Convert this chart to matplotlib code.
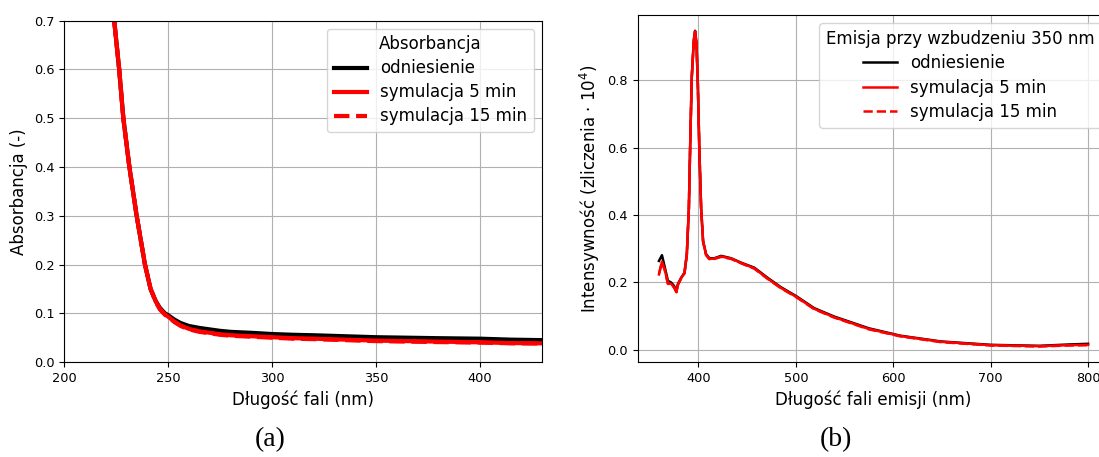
import matplotlib
matplotlib.use("Agg")
import matplotlib.pyplot as plt

plt.rcParams["font.family"] = ["DejaVu Sans"]

# (a) absorbance spectra
abs_wavelength = [220, 224, 226.4, 228.4, 231.3, 234.8, 238.8, 241.5, 244, 246, 248.4,
                  250, 253, 256, 260, 265, 270, 275, 280, 290, 300, 310, 320, 335,
                  350, 365, 380, 400, 415, 430]
abs_reference = [0.80, 0.70, 0.60, 0.50, 0.40, 0.30, 0.20, 0.15, 0.125, 0.111, 0.100,
                 0.096, 0.087, 0.080, 0.074, 0.070, 0.067, 0.064, 0.062, 0.060, 0.0575,
                 0.056, 0.055, 0.053, 0.051, 0.050, 0.049, 0.048, 0.046, 0.045]
abs_sim5 = [0.80, 0.70, 0.60, 0.50, 0.40, 0.30, 0.20, 0.15, 0.124, 0.109, 0.098,
            0.093, 0.083, 0.075, 0.068, 0.063, 0.060, 0.057, 0.055, 0.053, 0.051,
            0.049, 0.048, 0.046, 0.044, 0.043, 0.042, 0.0405, 0.039, 0.0385]
abs_sim15 = [0.80, 0.70, 0.60, 0.50, 0.40, 0.30, 0.20, 0.15, 0.123, 0.108, 0.097,
             0.092, 0.082, 0.074, 0.067, 0.062, 0.059, 0.056, 0.054, 0.052, 0.050,
             0.048, 0.047, 0.045, 0.043, 0.042, 0.041, 0.040, 0.0385, 0.038]

# (b) emission spectra, excitation 350 nm
em_wavelength = [359.5, 362.6, 365.5, 368.7, 372, 375, 377.5, 379, 382.3, 385.7, 388.1,
                 390.2, 391.8, 393.2, 395.3, 396.6, 398, 399.4, 401, 402.8, 404.8,
                 407.9, 411.3, 416.4, 423.3, 433.5, 443.7, 457.4, 471, 484.7, 500.7,
                 518.8, 539.3, 559.7, 575, 607.5, 649, 700, 750, 780, 800]
em_reference = [0.264, 0.281, 0.245, 0.205, 0.200, 0.190, 0.174, 0.196, 0.214, 0.229,
                0.284, 0.42, 0.64, 0.81, 0.92, 0.947, 0.91, 0.79, 0.59, 0.42, 0.323,
                0.284, 0.272, 0.272, 0.279, 0.272, 0.259, 0.244, 0.214, 0.186, 0.159,
                0.124, 0.099, 0.079, 0.064, 0.042, 0.025, 0.015, 0.012, 0.016, 0.018]
em_sim5 = [0.224, 0.262, 0.238, 0.197, 0.196, 0.186, 0.172, 0.194, 0.213, 0.228,
           0.283, 0.42, 0.64, 0.81, 0.92, 0.945, 0.91, 0.79, 0.59, 0.42, 0.322,
           0.282, 0.270, 0.271, 0.277, 0.271, 0.258, 0.242, 0.212, 0.184, 0.157,
           0.122, 0.097, 0.077, 0.062, 0.041, 0.024, 0.014, 0.011, 0.014, 0.015]
em_sim15 = [0.226, 0.260, 0.236, 0.196, 0.195, 0.185, 0.171, 0.193, 0.212, 0.227,
            0.282, 0.42, 0.64, 0.81, 0.92, 0.944, 0.91, 0.79, 0.59, 0.42, 0.321,
            0.281, 0.269, 0.270, 0.276, 0.270, 0.257, 0.241, 0.211, 0.183, 0.156,
            0.121, 0.096, 0.076, 0.061, 0.040, 0.023, 0.013, 0.010, 0.013, 0.014]

series_labels = ["odniesienie", "symulacja 5 min", "symulacja 15 min"]

W, H = 1099, 457
fig = plt.figure(figsize=(W / 100, H / 100), dpi=100)

def box(l, t, r, b):
    return [l / W, 1 - b / H, (r - l) / W, (b - t) / H]

TICK = 9.3
LAB = 12
LEG = 12

# ---- panel (a)
ax1 = fig.add_axes(box(64.3, 20.5, 542.4, 362.1))
ax1.plot(abs_wavelength, abs_reference, color="black", lw=3, label=series_labels[0])
ax1.plot(abs_wavelength, abs_sim5, color="red", lw=3, label=series_labels[1])
ax1.plot(abs_wavelength, abs_sim15, color="red", lw=3, ls="--", label=series_labels[2])
ax1.set_xlim(200, 430)
ax1.set_ylim(0, 0.7)
ax1.set_xticks([200, 250, 300, 350, 400])
ax1.set_yticks([0.0, 0.1, 0.2, 0.3, 0.4, 0.5, 0.6, 0.7])
ax1.grid(True)
ax1.tick_params(labelsize=TICK)
ax1.set_xlabel("Długość fali (nm)", fontsize=LAB)
ax1.set_ylabel("Absorbancja (-)", fontsize=LAB)
ax1.legend(title="Absorbancja", fontsize=LEG, title_fontsize=LEG, loc="upper right",
           labelspacing=0.36)

# ---- panel (b)
ax2 = fig.add_axes(box(637.5, 15, 1109.5, 362.3))
ax2.plot(em_wavelength, em_reference, color="black", lw=1.8, label=series_labels[0])
ax2.plot(em_wavelength, em_sim5, color="red", lw=1.8, label=series_labels[1])
ax2.plot(em_wavelength, em_sim15, color="red", lw=1.8, ls="--", label=series_labels[2])
ax2.set_xticks([400, 500, 600, 700, 800])
ax2.set_yticks([0.0, 0.2, 0.4, 0.6, 0.8])
ax2.grid(True)
ax2.tick_params(labelsize=TICK)
ax2.set_xlabel("Długość fali emisji (nm)", fontsize=LAB)
ax2.set_ylabel("Intensywność (zliczenia · 10$^4$)", fontsize=LAB)
ax2.legend(title="Emisja przy wzbudzeniu 350 nm", fontsize=LEG, title_fontsize=LEG,
           loc="upper right", labelspacing=0.38)

# panel captions
fig.text(270 / W, 1 - 440 / H, "(a)", family="Liberation Serif", fontsize=20,
         ha="center", va="center")
fig.text(836 / W, 1 - 440 / H, "(b)", family="Liberation Serif", fontsize=20,
         ha="center", va="center")

fig.savefig("out.png", dpi=100)
